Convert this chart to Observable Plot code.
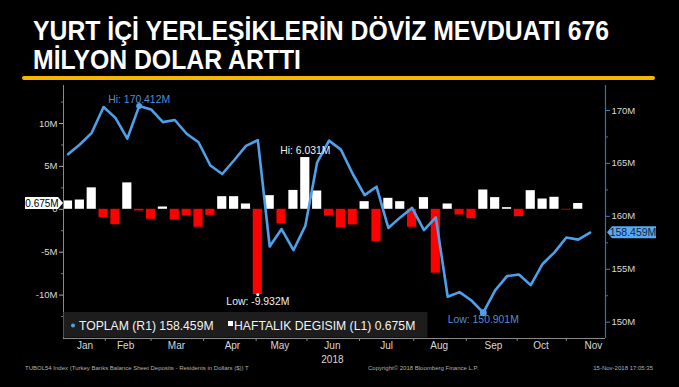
<!DOCTYPE html>
<html><head><meta charset="utf-8">
<script src="https://cdn.jsdelivr.net/npm/d3@7"></script>
<script src="https://cdn.jsdelivr.net/npm/@observablehq/plot@0.6"></script>
<style>
html,body{margin:0;padding:0;background:#000;}
#wrap{position:relative;width:679px;height:387px;overflow:hidden;background:#000;}
#title{position:absolute;left:33px;top:16px;color:#fff;font-family:"Liberation Sans",Arial,sans-serif;font-weight:bold;font-size:28px;line-height:29px;white-space:nowrap;z-index:2;transform:scaleX(0.885);transform-origin:0 0;}
#rule{position:absolute;left:22px;top:76px;width:633px;height:4px;background:#f5b700;border-radius:2px;z-index:2;}
#chart{position:absolute;left:0;top:0;}
</style></head>
<body><div id="wrap">
<div id="title">YURT İÇİ YERLEŞİKLERİN DÖVİZ MEVDUATI 676<br>MİLYON DOLAR ARTTI</div>
<div id="rule"></div>
<div id="chart"></div>
</div>
<script>
// ---- data ----
const weekDates = ["2018-01-05","2018-01-12","2018-01-19","2018-01-26","2018-02-02","2018-02-09","2018-02-16","2018-02-23",
"2018-03-02","2018-03-09","2018-03-16","2018-03-23","2018-03-30","2018-04-06","2018-04-13","2018-04-20","2018-04-27",
"2018-05-04","2018-05-11","2018-05-18","2018-05-25","2018-06-01","2018-06-08","2018-06-15","2018-06-22","2018-06-29",
"2018-07-06","2018-07-13","2018-07-20","2018-07-27","2018-08-03","2018-08-10","2018-08-17","2018-08-24","2018-08-31",
"2018-09-07","2018-09-14","2018-09-21","2018-09-28","2018-10-05","2018-10-12","2018-10-19","2018-10-26","2018-11-02","2018-11-09"];
const toplam = [165.87,166.79,167.89,170.33,169.30,167.35,170.412,170.10,168.90,169.10,167.80,167.00,164.80,164.00,165.30,166.66,167.20,
157.15,158.80,156.80,159.10,165.10,167.15,166.30,164.00,162.00,162.80,158.90,159.90,160.80,158.70,159.90,152.40,152.84,152.05,
150.901,153.00,154.35,154.50,153.50,155.50,156.60,158.00,157.80,158.459];
const haftalik = [0.97,1.08,2.50,-0.97,-1.80,3.08,-0.19,-1.16,0.27,-1.26,-0.78,-2.09,-0.70,1.47,1.47,0.62,-9.932,1.59,-1.70,2.20,
6.031,2.13,-0.80,-2.13,-1.82,0.89,-3.76,1.28,0.89,-2.09,1.36,-7.44,0.62,-0.66,-1.09,2.25,1.36,0.19,-0.85,2.17,1.20,1.40,-0.08,0.675];
const leftTicks = [-10,-5,0,5,10];
const leftMinor = [-12.5,-7.5,-2.5,2.5,7.5,12.5];
const rightTicks = [150,155,160,165,170];
const rightMinor = [152.5,157.5,162.5,167.5];
const monthLabels = ["Jan","Feb","Mar","Apr","May","Jun","Jul","Aug","Sep","Oct","Nov"];
const monthLabelDates = ["2018-01-15","2018-02-08","2018-03-10","2018-04-12","2018-05-10","2018-06-10","2018-07-12","2018-08-12","2018-09-13","2018-10-11","2018-11-11"];
const monthTickDates = ["2018-01-27","2018-02-23","2018-03-26","2018-04-26","2018-05-26","2018-06-26","2018-07-28","2018-08-28","2018-09-27","2018-10-26"];
const yearLabel = "2018";
const seriesNames = ["TOPLAM (R1)","HAFTALIK DEGISIM (L1)"];
const footer = ["TUBOL54 Index (Turkey Banks Balance Sheet Deposits - Residents in Dollars ($)) T","Copyright© 2018 Bloomberg Finance L.P.","15-Nov-2018 17:05:35"];

// ---- scales setup ----
const DAY = 864e5;
const P = d => new Date(d + "T00:00:00Z");
const xDomain = [new Date(+P(weekDates[0]) - 2.65*DAY), new Date(+P(weekDates[weekDates.length-1]) + 9.1*DAY)];
const yL = [-15.06, 14.43];     // left axis domain (millions)
const yR = [148.46, 172.36];    // right axis domain (millions)
const rt = v => yL[0] + (v - yR[0]) * (yL[1]-yL[0]) / (yR[1]-yR[0]);
const rinv = u => yR[0] + (u - yL[0]) * (yR[1]-yR[0]) / (yL[1]-yL[0]);

const lineData = weekDates.map((d,i) => ({date: P(d), v: toplam[i]}));
const barData = haftalik.map((v,i) => ({date: P(weekDates[i]), v}));
const hiL = lineData.reduce((a,b)=> b.v > a.v ? b : a);
const loL = lineData.reduce((a,b)=> b.v < a.v ? b : a);
const hiB = barData.reduce((a,b)=> b.v > a.v ? b : a);
const loB = barData.reduce((a,b)=> b.v < a.v ? b : a);

const BLUE = "#4fa0ea";
const fmt = v => (Math.round(v*1000)/1000).toFixed(3) + "M";

const plot = Plot.plot({
  width: 679, height: 387,
  marginTop: 85, marginBottom: 49, marginLeft: 63, marginRight: 74,
  style: {background: "#000", color: "#d8d8d8", fontFamily: "Liberation Sans, Arial, sans-serif"},
  x: {type: "utc", domain: xDomain, axis: null, label: null},
  y: {domain: yL, axis: null, label: null},
  marks: [
    Plot.rectY(barData, {x1: d => new Date(+d.date - 2.7*DAY), x2: d => new Date(+d.date + 2.7*DAY), y: "v",
      fill: d => d.v >= 0 ? "#ffffff" : "#ff0000"}),
    Plot.line(lineData, {x: "date", y: d => rt(d.v), stroke: BLUE, strokeWidth: 2.6, strokeLinejoin: "round"}),
    Plot.ruleX([xDomain[0]], {stroke: "#8a8a8a", strokeWidth: 1}),
    Plot.ruleX([xDomain[1]], {stroke: "#3d6fae", strokeWidth: 1.2}),
    Plot.ruleY([yL[0]], {stroke: "#8a8a8a", strokeWidth: 1}),
    Plot.axisY({ticks: leftTicks, anchor: "left", label: null, tickSize: 4, tickPadding: 2, fontSize: 9.5, stroke: "#aaa",
      tickFormat: d => d === 0 ? "0" : d + "M"}),
    Plot.axisY({ticks: leftMinor, anchor: "left", label: null, tickSize: 2, stroke: "#777", tickFormat: () => ""}),
    Plot.axisY({ticks: rightTicks.map(rt), anchor: "right", label: null, tickSize: 4, tickPadding: 2, fontSize: 9.5, stroke: "#4a7bbd",
      tickFormat: u => Math.round(rinv(u)) + "M"}),
    Plot.axisY({ticks: rightMinor.map(rt), anchor: "right", label: null, tickSize: 2, stroke: "#3d6fae", tickFormat: () => ""}),
    Plot.axisX({ticks: monthTickDates.map(P), anchor: "bottom", label: null, tickSize: 3, stroke: "#888", tickFormat: () => ""}),
    Plot.axisX({ticks: monthLabelDates.map(P), anchor: "bottom", label: null, tickSize: 0, tickPadding: 3, fontSize: 10,
      tickFormat: (d) => monthLabels[monthLabelDates.indexOf(d.toISOString().slice(0,10))]}),
    Plot.text([yearLabel], {x: P(monthLabelDates[5]), frameAnchor: "bottom", dy: 24, fontSize: 10, fill: "#d8d8d8"}),
    Plot.dot([hiL], {x: "date", y: d => rt(d.v), r: 3, fill: BLUE}),
    Plot.text([hiL], {x: "date", y: d => rt(d.v), text: d => "Hi: " + fmt(d.v), dy: -6, fill: "#4f8fd6", fontSize: 10.4}),
    Plot.dot([loL], {x: "date", y: d => rt(d.v), r: 3.5, fill: BLUE}),
    Plot.text([loL], {x: "date", y: d => rt(d.v), text: d => "Low: " + fmt(d.v), dy: 7.5, fill: "#4f8fd6", fontSize: 10.4}),
    Plot.text([hiB], {x: "date", y: "v", text: d => "Hi: " + fmt(d.v), dy: -6.5, fill: "#f0f0f0", fontSize: 10.4}),
    Plot.dot([loB], {x: "date", y: "v", r: 1.5, fill: "#fff"}),
    Plot.text([loB], {x: "date", y: "v", text: d => "Low: " + fmt(d.v), dy: 7, fill: "#f0f0f0", fontSize: 10.4})
  ]
});
document.getElementById("chart").appendChild(plot);

// ---- tags, legend, footer ----
const svg = d3.select(plot);
const ys = plot.scale("y");
const lastBar = haftalik[haftalik.length-1], lastLine = toplam[toplam.length-1];
const yb = ys.apply(lastBar), yl = ys.apply(rt(lastLine));
const F = "Liberation Sans, Arial, sans-serif";
svg.append("path").attr("d", `M25,${yb-6}H58L63,${yb}L58,${yb+6}H25Z`).attr("fill", "#fff");
svg.append("text").attr("x", 42).attr("y", yb).attr("dy", "0.35em").attr("text-anchor", "middle")
  .attr("font-family", F).attr("font-size", 10).attr("fill", "#000").text(fmt(lastBar));
svg.append("path").attr("d", `M612,${yl-6}H656V${yl+6}H612L607,${yl}Z`).attr("fill", "#5aaaf0");
svg.append("text").attr("x", 633).attr("y", yl).attr("dy", "0.35em").attr("text-anchor", "middle")
  .attr("font-family", F).attr("font-size", 10.5).attr("fill", "#0a2547").text(fmt(lastLine));

const lg = svg.append("g").attr("text-anchor", "start");
lg.append("rect").attr("x", 63.5).attr("y", 312).attr("width", 364).attr("height", 25.5).attr("fill", "#1d1d1d");
lg.append("circle").attr("cx", 73).attr("cy", 325.5).attr("r", 2).attr("fill", BLUE);
lg.append("text").attr("x", 79).attr("y", 330).attr("text-anchor", "start").attr("font-family", F).attr("font-size", 12.2).attr("fill", "#f2f2f2")
  .text(seriesNames[0] + " " + fmt(lastLine));
lg.append("rect").attr("x", 228).attr("y", 321).attr("width", 5).attr("height", 5).attr("fill", "#fff");
lg.append("text").attr("x", 234).attr("y", 330).attr("text-anchor", "start").attr("font-family", F).attr("font-size", 12.2).attr("fill", "#f2f2f2")
  .text(seriesNames[1] + " " + fmt(lastBar));

const ft = svg.append("g").attr("font-family", F).attr("font-size", 6).attr("fill", "#b0b0b0");
ft.append("text").attr("x", 25).attr("y", 370).attr("text-anchor", "start").text(footer[0]);
ft.append("text").attr("x", 368).attr("y", 370).attr("text-anchor", "start").text(footer[1]);
ft.append("text").attr("x", 653).attr("y", 370).attr("text-anchor", "end").text(footer[2]);
</script>
</body></html>
